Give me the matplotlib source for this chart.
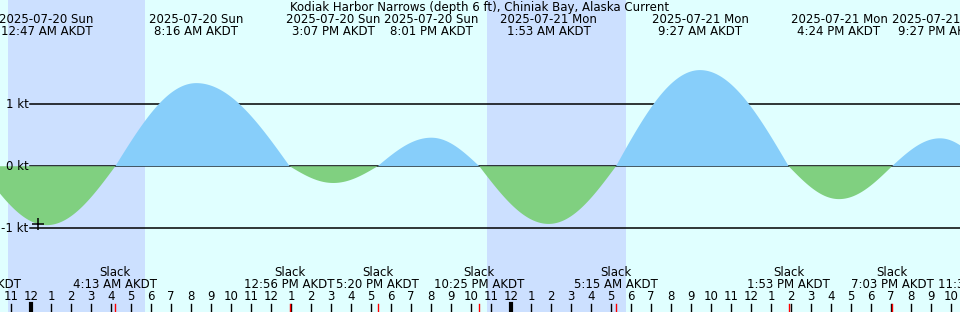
import numpy as np
import pandas as pd
import matplotlib
matplotlib.use("Agg")
import matplotlib.pyplot as plt

# tide current events (AKDT), speed in knots
event_times = ["2025-07-19 21:25", "2025-07-20 00:47", "2025-07-20 04:13",
               "2025-07-20 08:16", "2025-07-20 12:56", "2025-07-20 15:07",
               "2025-07-20 17:20", "2025-07-20 20:01", "2025-07-20 22:25",
               "2025-07-21 01:53", "2025-07-21 05:15", "2025-07-21 09:27",
               "2025-07-21 13:53", "2025-07-21 16:24", "2025-07-21 19:03",
               "2025-07-21 21:27", "2025-07-21 23:38"]
event_speed = [0.0, -0.95, 0.0, 1.34, 0.0, -0.27, 0.0, 0.46, 0.0,
               -0.93, 0.0, 1.55, 0.0, -0.53, 0.0, 0.45, 0.0]
event_labels = ["9:25 PM AKDT", "12:47 AM AKDT", "4:13 AM AKDT", "8:16 AM AKDT",
                "12:56 PM AKDT", "3:07 PM AKDT", "5:20 PM AKDT", "8:01 PM AKDT",
                "10:25 PM AKDT", "1:53 AM AKDT", "5:15 AM AKDT", "9:27 AM AKDT",
                "1:53 PM AKDT", "4:24 PM AKDT", "7:03 PM AKDT", "9:27 PM AKDT",
                "11:38 PM AKDT"]

# night periods (sunset, sunrise)
nights = [("2025-07-19 22:51", "2025-07-20 05:42"),
          ("2025-07-20 22:48", "2025-07-21 05:44")]

# marker on the curve
mark_time = "2025-07-20 00:22"
mark_speed = -0.93

title = "Kodiak Harbor Narrows (depth 6 ft), Chiniak Bay, Alaska Current"
speed_ticks = [1, 0, -1]

t0 = pd.Timestamp("2025-07-20 00:00")


def hours(s):
    return (pd.Timestamp(s) - t0).total_seconds() / 3600.0


ev_h = np.array([hours(s) for s in event_times])
ev_v = np.array(event_speed)

# smooth curve: quarter-cosine segments between consecutive events
tt, vv = [], []
for i in range(len(ev_h) - 1):
    a, b = ev_h[i], ev_h[i + 1]
    s = np.linspace(a, b, 80)
    f = (s - a) / (b - a)
    if ev_v[i] == 0:
        v = ev_v[i + 1] * np.sin(np.pi / 2 * f)
    else:
        v = ev_v[i] * np.cos(np.pi / 2 * f)
    tt.append(s)
    vv.append(v)
tt = np.concatenate(tt)
vv = np.concatenate(vv)

day_bg = "#e0ffff"
night_bg = "#cce0ff"
flood = "#87cefa"
ebb = "#80d080"
fs = 8.5

x0, x1 = -1.55, 46.45
y0, y1 = -2.35, 2.68
px = 1 / 62  # one pixel in knots

fig = plt.figure(figsize=(9.6, 3.12), dpi=100, facecolor=day_bg)
ax = fig.add_axes([0, 0, 1, 1])
ax.set_xlim(x0, x1)
ax.set_ylim(y0, y1)
ax.axis("off")

for a, b in nights:
    ax.axvspan(hours(a), hours(b), color=night_bg, lw=0, zorder=0)

# kt lines
for k in speed_ticks:
    ax.plot([-0.05, x1], [k, k], color="black", lw=1.1, zorder=1)
    ax.text(-0.12, k, f"{k} kt", ha="right", va="center", fontsize=fs, zorder=5)

ax.fill_between(tt, 0, vv, where=vv >= 0, color=flood, lw=0, interpolate=True, zorder=2)
ax.fill_between(tt, 0, vv, where=vv <= 0, color=ebb, lw=0, interpolate=True, zorder=2)

ax.plot(hours(mark_time), mark_speed, marker="+", color="black", ms=8, mew=1.1, zorder=4)

ax.text(0.5, 1 - 7 / 312, title, transform=ax.transAxes, ha="center", va="center",
        fontsize=fs)

# top labels for max events, bottom labels for slack
for h, v, lab, s in zip(ev_h, ev_v, event_labels, event_times):
    if v == 0:
        ax.text(h, y0 + 39 * px, "Slack", ha="center", va="center", fontsize=fs, zorder=5)
        ax.text(h, y0 + 27 * px, lab, ha="center", va="center", fontsize=fs, zorder=5)
        ax.plot([h, h], [y0, y0 + 8 * px], color="red", lw=1, zorder=4)
    else:
        day = pd.Timestamp(s).strftime("%Y-%m-%d %a")
        ax.text(h, y1 - 19 * px, day, ha="center", va="center", fontsize=fs, zorder=5)
        ax.text(h, y1 - 31 * px, lab, ha="center", va="center", fontsize=fs, zorder=5)

# hour ticks along the bottom
for h in range(-1, 47):
    hr = h % 12
    ax.text(h, y0 + 15 * px, str(12 if hr == 0 else hr), ha="center", va="center",
            fontsize=fs, zorder=5)
    ax.plot([h, h], [y0, y0 + 8 * px], color="black",
            lw=3 if h % 24 == 0 else 1, zorder=3)

fig.savefig("out.png", dpi=100, facecolor=day_bg)
